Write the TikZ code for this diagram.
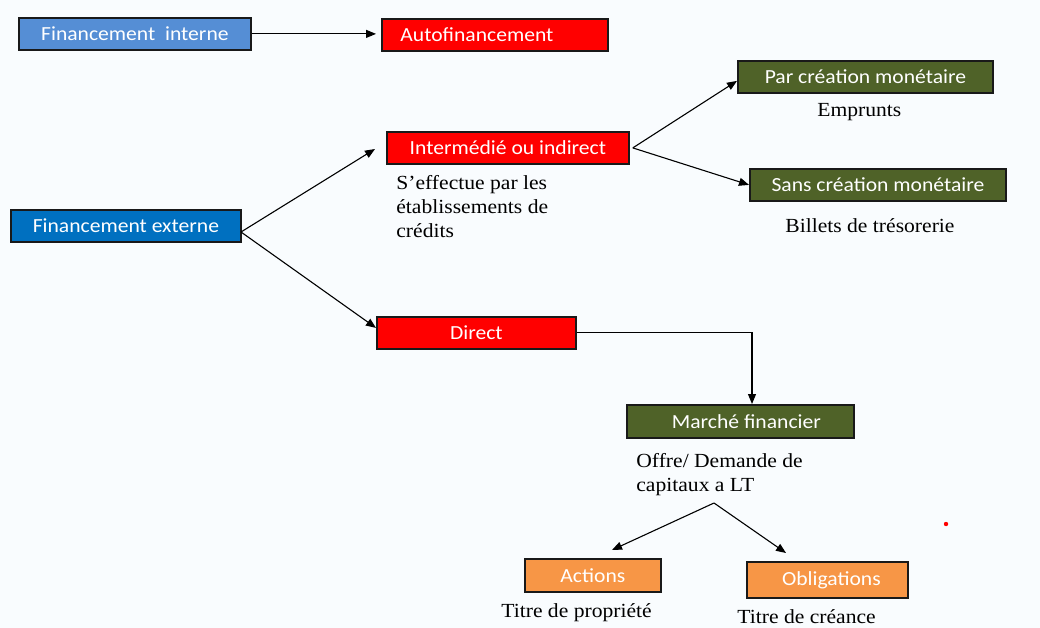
\documentclass[tikz,border=0pt]{standalone}
\usepackage{fontspec}
\usepackage{tikz}
\usetikzlibrary{arrows.meta}
\newfontfamily\boxfont[FakeStretch=1.08]{Carlito}
\newfontfamily\notefont[FakeStretch=1.08]{Liberation Serif}
\definecolor{bgtint}{RGB}{249,252,254}
\definecolor{lightblue}{RGB}{85,142,213}
\definecolor{deepblue}{RGB}{0,112,192}
\definecolor{olive}{RGB}{79,98,40}
\definecolor{orangebox}{RGB}{247,150,70}
\tikzset{every picture/.style={line width=0.75pt}}
\tikzset{
  boxnode/.style={draw=black!90, line width=1.8pt, text=white, anchor=north west,
    inner sep=0pt, font=\boxfont\fontsize{20}{24}\selectfont},
  notenode/.style={anchor=north west, inner sep=0pt, align=left,
    font=\notefont\fontsize{20}{24}\selectfont},
  link/.style={-{Triangle[length=10pt,width=8pt]}, line width=1.1pt}
}

\begin{document}
\begin{tikzpicture}[x=1pt,y=1pt,yscale=-1,xscale=1]

\fill[bgtint] (0,0) rectangle (1040,628);
\useasboundingbox (0,0) rectangle (1040,628);

% Boxes
\node (intern) [boxnode, fill=lightblue, minimum width=232, minimum height=32] at (18,17) {Financement\ \ interne};
\node (autof) [boxnode, fill=red, minimum width=226, minimum height=32] at (381,18) {\hspace*{-36pt}Autofinancement};
\node (extern) [boxnode, fill=deepblue, minimum width=230, minimum height=32] at (10,209) {Financement externe};
\node (indir) [boxnode, fill=red, minimum width=242, minimum height=32] at (386,131) {Intermédié ou indirect};
\node (parcm) [boxnode, fill=olive, minimum width=255, minimum height=32] at (737,60) {Par création monétaire};
\node (sanscm) [boxnode, fill=olive, minimum width=256, minimum height=32] at (749,168) {Sans création monétaire};
\node (direct) [boxnode, fill=red, minimum width=199, minimum height=32] at (376,316) {Direct};
\node (marche) [boxnode, fill=olive, minimum width=227, minimum height=33] at (626,404) {\hspace*{12pt}Marché financier};
\node (actions) [boxnode, fill=orangebox, minimum width=136, minimum height=33] at (524,558) {Actions};
\node (oblig) [boxnode, fill=orangebox, minimum width=161, minimum height=36] at (746,561) {\hspace*{8pt}Obligations};

% Text Node
\node (effect) [notenode] at (396,175) {S’effectue par les\\établissements de\\crédits};
\node (empr) [notenode] at (817,103) {Emprunts};
\node (billets) [notenode] at (785,218) {Billets de trésorerie};
\node (offre) [notenode] at (636,453) {Offre/ Demande de\\capitaux a LT};
\node (propr) [notenode] at (501,603) {Titre de propriété};
\node (creance) [notenode] at (737,609) {Titre de créance};

% Connectors
\coordinate (extout) at (241,232);
\coordinate (indin) at (375,149);
\coordinate (split) at (714,503);
\coordinate (actin) at (612,550);
\coordinate (oblin) at (786,553);
\coordinate (marchein) at (752,404);

\draw [link] (intern.east) -- ([xshift=-5]intern.east -| autof.west);
\draw [link] (extout) -- (indin);
\draw [link] (extout) -- ([yshift=-5]direct.west);
\draw [link] ([xshift=3]indir.east) -- ([yshift=4]parcm.west);
\draw [link] ([xshift=3]indir.east) -- (sanscm.west);
\draw [link] (direct.east) -| (marchein);
\draw [link] (split) -- (actin);
\draw [link] (split) -- (oblin);

\fill[red] (946,524) circle (2.2);
\end{tikzpicture}
\end{document}
